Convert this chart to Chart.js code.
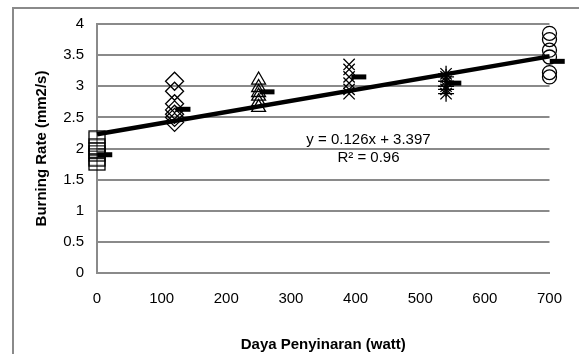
<!DOCTYPE html>
<html>
<head>
<meta charset="utf-8">
<script src="https://cdn.jsdelivr.net/npm/chart.js@4/dist/chart.umd.min.js"></script>
<style>
  html, body { margin: 0; padding: 0; background: #fff; }
  #wrap { position: relative; width: 579px; height: 354px; overflow: hidden; }
  #frame { position: absolute; left: 12px; top: 7px; width: 700px; height: 500px; border: 2px solid #8a8a8a; box-sizing: border-box; }
  #c { position: absolute; left: 0; top: 0; }
</style>
</head>
<body>
<div id="wrap">
  <div id="frame"></div>
  <canvas id="c" width="579" height="354"></canvas>
</div>
<script>
// ---- data ----
const xTicks = [0, 100, 200, 300, 400, 500, 600, 700];
const yTicks = [0, 0.5, 1, 1.5, 2, 2.5, 3, 3.5, 4];

const power0 = 0,   rate0 = [2.18, 2.05, 2.0, 1.95, 1.9, 1.82, 1.75];
const power1 = 120, rate1 = [3.08, 2.92, 2.72, 2.62, 2.55, 2.5, 2.42];
const power2 = 250, rate2 = [3.1, 2.98, 2.9, 2.84, 2.75, 2.66];
const power3 = 390, rate3 = [3.35, 3.27, 3.15, 3.05, 2.95, 2.88];
const power4 = 540, rate4 = [3.2, 3.15, 3.08, 3.0, 2.95, 2.88];
const power5 = 700, rate5 = [3.85, 3.75, 3.58, 3.47, 3.22, 3.15];

const meanPower = [12, 133, 263, 405, 552, 712];
const meanRate  = [1.9, 2.63, 2.91, 3.15, 3.05, 3.40];

const trendX = [0, 700];
const trendY = [2.23, 3.48];

const eqText = "y = 0.126x + 3.397";
const r2Text = "R\u00B2 = 0.96";
const eqAnchor = { x: 420, y: 2.14 };
const r2Anchor = { x: 420, y: 1.85 };

const FONT = "'Liberation Sans', Arial, sans-serif";

function pts(px, arr) { return arr.map(v => ({ x: px, y: v })); }

function markerSet(data, style, radius) {
  return {
    type: 'scatter', data, pointStyle: style, pointRadius: radius,
    pointBorderColor: '#000', pointBackgroundColor: 'rgba(0,0,0,0)',
    pointBorderWidth: 1.3, showLine: false, clip: false
  };
}

// wide open square marker (as in the reference)
function boxMarker(w, h) {
  const c = document.createElement('canvas');
  c.width = w + 2; c.height = h + 2;
  const g = c.getContext('2d');
  g.strokeStyle = '#000'; g.lineWidth = 1.3;
  g.strokeRect(1, 1, w, h);
  return c;
}

const textPlugin = {
  id: 'eqText',
  afterDatasetsDraw(chart) {
    const { ctx, scales: { x, y } } = chart;
    ctx.save();
    ctx.fillStyle = '#000';
    ctx.font = "15px " + FONT;
    ctx.textAlign = 'center';
    ctx.textBaseline = 'middle';
    ctx.fillText(eqText, x.getPixelForValue(eqAnchor.x), y.getPixelForValue(eqAnchor.y));
    ctx.fillText(r2Text, x.getPixelForValue(r2Anchor.x), y.getPixelForValue(r2Anchor.y));
    ctx.restore();
  }
};

new Chart(document.getElementById('c'), {
  type: 'scatter',
  data: {
    datasets: [
      {
        type: 'line', data: trendX.map((v, i) => ({ x: v, y: trendY[i] })),
        borderColor: '#000', borderWidth: 4.5, pointRadius: 0, fill: false, clip: false, order: 0
      },
      markerSet(pts(power0, rate0), boxMarker(16, 12), 8),
      markerSet(pts(power1, rate1), 'rectRot', 9),
      markerSet(pts(power2, rate2), 'triangle', 8),
      markerSet(pts(power3, rate3), 'crossRot', 8),
      markerSet(pts(power4, rate4), 'star', 8),
      markerSet(pts(power5, rate5), 'circle', 7),
      {
        type: 'scatter', data: meanPower.map((v, i) => ({ x: v, y: meanRate[i] })),
        pointStyle: 'line', pointRadius: 7.5, pointBorderWidth: 5,
        pointBorderColor: '#000', pointBackgroundColor: '#000', clip: false
      }
    ]
  },
  options: {
    responsive: false,
    animation: false,
    events: [],
    layout: { padding: { left: 24, top: 24, right: 27, bottom: 0 } },
    plugins: { legend: { display: false }, tooltip: { enabled: false } },
    scales: {
      x: {
        type: 'linear', min: 0, max: 700,
        afterBuildTicks(s) { s.ticks = xTicks.map(v => ({ value: v })); },
        afterFit(s) { s.height = 81; },
        grid: { display: false, drawTicks: false },
        border: { display: true, color: '#8a8a8a', width: 2 },
        ticks: { padding: 17, color: '#000', font: { family: FONT, size: 15 },
                 callback: v => String(v) },
        title: { display: true, text: 'Daya Penyinaran (watt)', color: '#000',
                 padding: { top: 0, bottom: 0 }, font: { family: FONT, size: 15, weight: 'bold' } }
      },
      y: {
        type: 'linear', min: 0, max: 4,
        afterBuildTicks(s) { s.ticks = yTicks.map(v => ({ value: v })); },
        afterFit(s) { s.width = 73; },
        grid: { color: '#8a8a8a', lineWidth: 2, drawTicks: false },
        border: { display: true, color: '#8a8a8a', width: 2 },
        ticks: { padding: 13, color: '#000', font: { family: FONT, size: 15 },
                 callback: v => String(v) },
        title: { display: true, text: 'Burning Rate (mm2/s)', color: '#000',
                 padding: { top: 9, bottom: 0 }, font: { family: FONT, size: 15, weight: 'bold' } }
      }
    }
  },
  plugins: [textPlugin]
});
</script>
</body>
</html>
